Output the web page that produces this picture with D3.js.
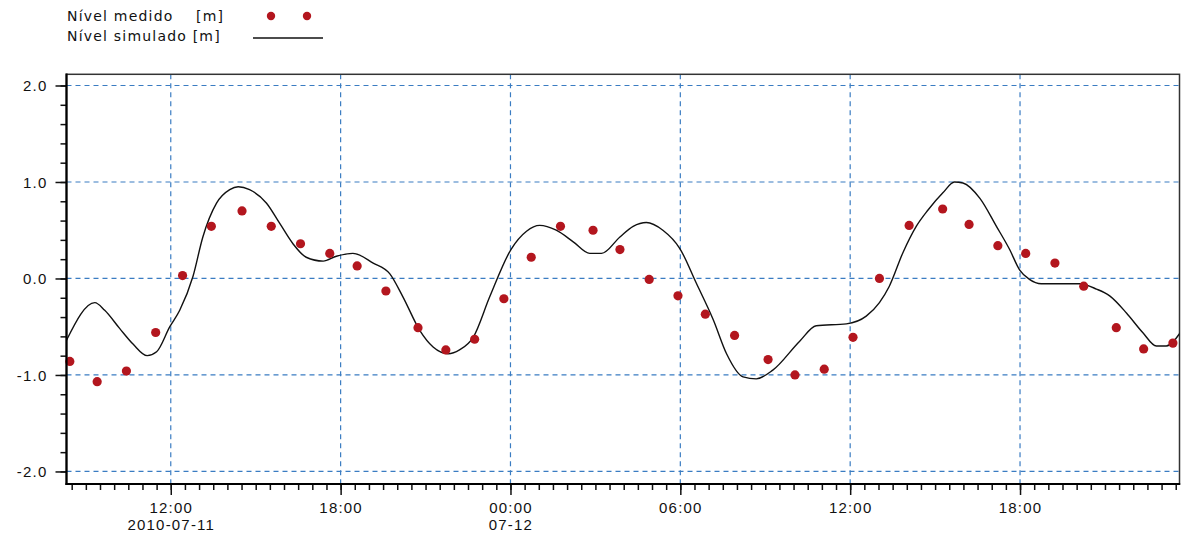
<!DOCTYPE html>
<html>
<head>
<meta charset="utf-8">
<script src="https://cdn.jsdelivr.net/npm/d3@7"></script>
<style>
  body { margin: 0; background: #fff; }
  svg { display: block; font-family: "DejaVu Sans", sans-serif; }
  .lbl { font-size: 15px; letter-spacing: 1.2px; fill: #111; }
  .leg { font-size: 14px; letter-spacing: 1.2px; fill: #111; white-space: pre; }
</style>
</head>
<body>
<svg id="chart"></svg>
<script>
// measured level (red dots)
const medidoTimes = [
  "2010-07-11 08:26", "2010-07-11 09:24", "2010-07-11 10:26", "2010-07-11 11:28",
  "2010-07-11 12:25", "2010-07-11 13:26", "2010-07-11 14:31", "2010-07-11 15:33",
  "2010-07-11 16:35", "2010-07-11 17:37", "2010-07-11 18:35", "2010-07-11 19:36",
  "2010-07-11 20:44", "2010-07-11 21:43", "2010-07-11 22:44", "2010-07-11 23:46",
  "2010-07-12 00:44", "2010-07-12 01:46", "2010-07-12 02:55", "2010-07-12 03:52",
  "2010-07-12 04:54", "2010-07-12 05:55", "2010-07-12 06:53", "2010-07-12 07:55",
  "2010-07-12 09:06", "2010-07-12 10:03", "2010-07-12 11:05", "2010-07-12 12:06",
  "2010-07-12 13:02", "2010-07-12 14:05", "2010-07-12 15:16", "2010-07-12 16:12",
  "2010-07-12 17:13", "2010-07-12 18:12", "2010-07-12 19:14", "2010-07-12 20:15",
  "2010-07-12 21:24", "2010-07-12 22:22", "2010-07-12 23:24"
];
const medidoValues = [
  -0.86, -1.07, -0.96, -0.56, 0.03, 0.54, 0.70, 0.54,
  0.36, 0.26, 0.13, -0.13, -0.51, -0.74, -0.63, -0.21,
  0.22, 0.54, 0.50, 0.30, -0.01, -0.18, -0.37, -0.59,
  -0.84, -1.00, -0.94, -0.61, 0.00, 0.55, 0.72, 0.56,
  0.34, 0.26, 0.16, -0.08, -0.51, -0.73, -0.67
];

// simulated level (black line)
const simuladoTimes = [
  "2010-07-11 08:19", "2010-07-11 09:19", "2010-07-11 09:40", "2010-07-11 10:12",
  "2010-07-11 10:40", "2010-07-11 11:10", "2010-07-11 11:30", "2010-07-11 11:58",
  "2010-07-11 12:19", "2010-07-11 12:47", "2010-07-11 13:08", "2010-07-11 13:37",
  "2010-07-11 14:05", "2010-07-11 14:23", "2010-07-11 14:47", "2010-07-11 15:23",
  "2010-07-11 15:51", "2010-07-11 16:19", "2010-07-11 16:47", "2010-07-11 17:23",
  "2010-07-11 17:51", "2010-07-11 18:26", "2010-07-11 19:09", "2010-07-11 19:44",
  "2010-07-11 20:12", "2010-07-11 20:48", "2010-07-11 21:16", "2010-07-11 21:48",
  "2010-07-11 22:12", "2010-07-11 22:41", "2010-07-11 23:16", "2010-07-12 00:01",
  "2010-07-12 00:34", "2010-07-12 01:02", "2010-07-12 01:37", "2010-07-12 02:13",
  "2010-07-12 02:48", "2010-07-12 03:13", "2010-07-12 03:52", "2010-07-12 04:20",
  "2010-07-12 04:48", "2010-07-12 05:23", "2010-07-12 05:59", "2010-07-12 06:34",
  "2010-07-12 07:10", "2010-07-12 07:38", "2010-07-12 08:13", "2010-07-12 08:41",
  "2010-07-12 09:16", "2010-07-12 10:13", "2010-07-12 10:48", "2010-07-12 11:52",
  "2010-07-12 12:34", "2010-07-12 13:02", "2010-07-12 13:23", "2010-07-12 13:52",
  "2010-07-12 14:20", "2010-07-12 14:45", "2010-07-12 15:17", "2010-07-12 15:41",
  "2010-07-12 15:59", "2010-07-12 16:35", "2010-07-12 17:10", "2010-07-12 17:38",
  "2010-07-12 17:59", "2010-07-12 18:20", "2010-07-12 18:45", "2010-07-12 20:06",
  "2010-07-12 20:42", "2010-07-12 21:10", "2010-07-12 21:46", "2010-07-12 22:20",
  "2010-07-12 22:49", "2010-07-12 23:10", "2010-07-12 23:40"
];
const simuladoValues = [
  -0.64, -0.25, -0.33, -0.52, -0.68, -0.80, -0.76, -0.50,
  -0.33, 0.02, 0.43, 0.78, 0.92, 0.95, 0.92, 0.78,
  0.57, 0.36, 0.22, 0.18, 0.23, 0.26, 0.16, 0.05,
  -0.19, -0.54, -0.71, -0.78, -0.74, -0.61, -0.19, 0.30,
  0.49, 0.55, 0.50, 0.38, 0.26, 0.26, 0.43, 0.54,
  0.58, 0.50, 0.31, -0.05, -0.43, -0.78, -1.02, -1.04,
  -0.95, -0.65, -0.49, -0.47, -0.39, -0.25, -0.08, 0.27,
  0.54, 0.71, 0.89, 1.00, 0.99, 0.83, 0.54, 0.30,
  0.09, -0.01, -0.055, -0.055, -0.11, -0.18, -0.36, -0.56,
  -0.70, -0.70, -0.56
];

// axis ticks
const yTicks = [-2, -1, 0, 1, 2];
const xTickTimes = ["2010-07-11 12:00", "2010-07-11 18:00", "2010-07-12 00:00",
                    "2010-07-12 06:00", "2010-07-12 12:00", "2010-07-12 18:00"];
const xTickLabels = ["12:00", "18:00", "00:00", "06:00", "12:00", "18:00"];
const xDateLabels = ["2010-07-11", "", "07-12", "", "", ""];

const WIDTH = 1181;
const HEIGHT = 558;
const LEFT = 66.5, RIGHT = 1179.5, TOP = 74.3, BOTTOM = 484;
const GRID_COLOR = '#3a7cc2';
const DOT_COLOR = '#b3161e';

const parse = d3.timeParse('%Y-%m-%d %H:%M');

const svg = d3.select('#chart')
    .attr('width', WIDTH)
    .attr('height', HEIGHT);

const x = d3.scaleTime()
    .domain([parse('2010-07-11 08:19'), parse('2010-07-12 23:38')])
    .range([LEFT, RIGHT]);

const y = d3.scaleLinear()
    .domain([-2.13, 2.116])
    .range([BOTTOM, TOP]);

svg.append('clipPath').attr('id', 'plot-clip')
  .append('rect')
    .attr('x', LEFT).attr('y', TOP)
    .attr('width', RIGHT - LEFT).attr('height', BOTTOM - TOP);

// grid
svg.selectAll('.hgrid')
    .data(yTicks)
    .join('line')
    .attr('x1', LEFT).attr('x2', RIGHT)
    .attr('y1', d => y(d)).attr('y2', d => y(d))
    .attr('stroke', GRID_COLOR)
    .attr('stroke-width', 1.2)
    .attr('stroke-dasharray', '5,4');

svg.selectAll('.vgrid')
    .data(xTickTimes)
    .join('line')
    .attr('x1', d => x(parse(d))).attr('x2', d => x(parse(d)))
    .attr('y1', TOP).attr('y2', BOTTOM)
    .attr('stroke', GRID_COLOR)
    .attr('stroke-width', 1.2)
    .attr('stroke-dasharray', '5,4');

// frame
svg.append('rect')
    .attr('x', LEFT).attr('y', TOP)
    .attr('width', RIGHT - LEFT).attr('height', BOTTOM - TOP)
    .attr('fill', 'none')
    .attr('stroke', '#333')
    .attr('stroke-width', 1.5);

// simulated line
const line = d3.line()
    .x((d, i) => x(parse(simuladoTimes[i])))
    .y(d => y(d))
    .curve(d3.curveMonotoneX);

svg.append('path')
    .datum(simuladoValues)
    .attr('clip-path', 'url(#plot-clip)')
    .attr('d', line)
    .attr('fill', 'none')
    .attr('stroke', '#111')
    .attr('stroke-width', 1.4);

// measured dots
svg.selectAll('.dot')
    .data(medidoValues)
    .join('circle')
    .attr('cx', (d, i) => x(parse(medidoTimes[i])))
    .attr('cy', d => y(d))
    .attr('r', 4.6)
    .attr('fill', DOT_COLOR);

// axes
const yAxis = d3.axisLeft(y)
    .tickValues(d3.range(-20, 21, 2).map(v => v / 10))
    .tickSize(6)
    .tickFormat('');
svg.append('g')
    .attr('transform', `translate(${LEFT},0)`)
    .call(yAxis)
    .call(g => g.select('.domain').remove())
    .call(g => g.selectAll('line').attr('stroke', '#111').attr('stroke-width', 1.5));

const yAxisMajor = d3.axisLeft(y)
    .tickValues(yTicks)
    .tickSize(11)
    .tickPadding(8)
    .tickFormat(d => d.toFixed(1));
svg.append('g')
    .attr('transform', `translate(${LEFT},0)`)
    .call(yAxisMajor)
    .call(g => g.select('.domain').remove())
    .call(g => g.selectAll('line').attr('stroke', '#111').attr('stroke-width', 1.5))
    .call(g => g.selectAll('text').attr('class', 'lbl').attr('dy', '0.36em'));

const xAxis = d3.axisBottom(x)
    .ticks(d3.timeMinute.every(30))
    .tickSize(6)
    .tickFormat('');
svg.append('g')
    .attr('transform', `translate(0,${BOTTOM})`)
    .call(xAxis)
    .call(g => g.select('.domain').remove())
    .call(g => g.selectAll('line').attr('stroke', '#111').attr('stroke-width', 1.5));

const xAxisMajor = d3.axisBottom(x)
    .tickValues(xTickTimes.map(parse))
    .tickSize(11)
    .tickPadding(7)
    .tickFormat((d, i) => xTickLabels[i]);
svg.append('g')
    .attr('transform', `translate(0,${BOTTOM})`)
    .call(xAxisMajor)
    .call(g => g.select('.domain').remove())
    .call(g => g.selectAll('line').attr('stroke', '#111').attr('stroke-width', 1.5))
    .call(g => g.selectAll('text').attr('class', 'lbl'))
    .call(g => g.selectAll('.tick').append('text')
        .attr('class', 'lbl')
        .attr('y', 35)
        .attr('dy', '0.71em')
        .attr('text-anchor', 'middle')
        .text((d, i) => xDateLabels[i]));

// axis lines
svg.append('line')
    .attr('x1', LEFT).attr('x2', LEFT)
    .attr('y1', TOP - 0.7).attr('y2', BOTTOM + 1)
    .attr('stroke', '#000').attr('stroke-width', 2.2);
svg.append('line')
    .attr('x1', LEFT - 1).attr('x2', RIGHT + 0.7)
    .attr('y1', BOTTOM).attr('y2', BOTTOM)
    .attr('stroke', '#000').attr('stroke-width', 2.2);

// legend
const legend = svg.append('g');
legend.append('text').attr('class', 'leg')
    .attr('x', 67).attr('y', 21)
    .text('Nível medido    [m]');
legend.append('text').attr('class', 'leg')
    .attr('x', 67).attr('y', 41)
    .text('Nível simulado [m]');
legend.selectAll('.legdot')
    .data([271, 307])
    .join('circle')
    .attr('cx', d => d).attr('cy', 16)
    .attr('r', 4.2)
    .attr('fill', DOT_COLOR);
legend.append('line')
    .attr('x1', 253).attr('x2', 323)
    .attr('y1', 38).attr('y2', 38)
    .attr('stroke', '#111').attr('stroke-width', 1.4);
</script>
</body>
</html>
